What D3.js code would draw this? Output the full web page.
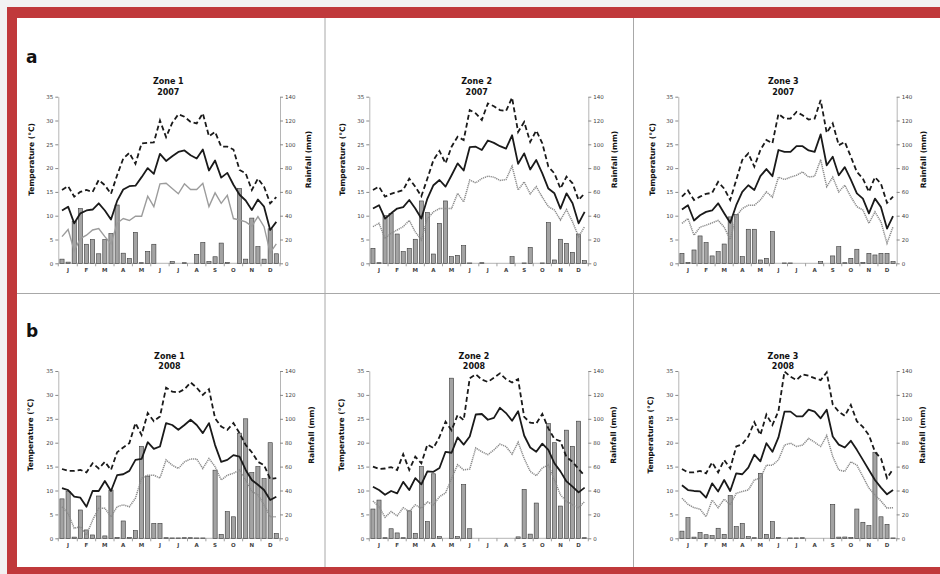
<!DOCTYPE html>
<html><head><meta charset="utf-8">
<script src="https://cdn.jsdelivr.net/npm/d3@7/dist/d3.min.js"></script>
<style>body{margin:0;background:#fff}svg{display:block}</style>
</head><body>
<svg id="c" width="940" height="574"></svg>
<script>
const months = ["J","F","M","A","M","J","J","A","S","O","N","D"];
const tempTicks = [0,5,10,15,20,25,30,35];
const rainTicks = [0,20,40,60,80,100,120,140];
const panelLetters = ["a","b"];

// Zone 1, 2007 (dekadal values)
const z1_2007_max  = [15.4,16.2,14.0,15.0,15.4,15.0,17.5,16.4,14.6,18.5,22.0,23.2,20.9,25.2,25.3,25.4,30.0,26.5,29.5,31.3,30.8,29.7,29.4,31.5,26.7,27.6,24.5,24.5,23.9,19.6,18.9,15.4,17.8,16.1,12.6,13.9];
const z1_2007_mean = [11.1,11.9,8.4,10.5,11.1,11.3,12.6,11.1,9.2,13.1,15.5,16.2,16.3,18.1,20.0,18.8,23.0,21.5,22.5,23.4,23.7,22.7,22.0,23.9,19.5,21.6,18.0,19.0,16.5,14.4,13.2,11.2,13.4,11.9,7.0,8.7];
const z1_2007_min  = [5.6,7.1,2.6,5.2,5.9,7.0,7.3,5.6,4.1,8.4,9.4,9.0,9.9,9.9,14.1,11.9,16.7,16.8,15.7,14.6,16.7,15.5,15.5,16.8,11.9,14.8,12.6,14.3,9.4,9.1,8.7,7.8,9.8,7.7,2.2,4.1];
const z1_2007_rain = [3.5,1,35,46,16,20,8,20,25,49,8.5,4,26,0.5,10,16,0,0,1.5,0,0.5,0,7.5,17.5,1.5,5.5,17,0.8,0,63,3.5,38,14,3.5,29,8];

// Zone 2, 2007
const z2_2007_max  = [15.4,16.1,14.0,14.6,15.0,15.4,17.8,16.1,14.1,17.8,21.7,23.6,21.0,24.5,26.6,25.9,32.2,31.5,30.1,33.6,33.0,32.2,32.0,34.8,27.6,29.7,25.5,27.9,25.2,20.3,18.9,15.7,18.2,16.8,13.3,14.7];
const z2_2007_mean = [11.5,12.2,9.4,10.5,11.5,11.8,13.3,11.5,9.4,13.6,16.4,17.5,16.1,18.5,21.0,19.5,24.4,24.5,23.8,25.8,25.3,24.6,24.1,26.9,20.9,23.1,19.7,21.7,18.9,15.7,14.7,11.5,14.7,12.6,8.4,10.8];
const z2_2007_min  = [7.7,8.4,5.2,6.3,7.0,7.7,9.0,6.6,4.9,9.4,10.8,11.5,11.5,11.5,14.7,12.9,17.5,16.9,17.8,18.3,18.1,17.4,17.6,20.4,15.4,17.1,14.6,16.1,13.9,11.9,11.2,9.1,11.3,8.7,5.6,7.7];
const z2_2007_rain = [12.6,0.5,40,42,24.6,9.8,12.6,20.2,52.4,42.6,7.8,33.6,52.4,5.6,6.7,14.8,0.3,0,0.5,0,0,0,0,5.6,0,0.3,13.4,0,0.3,34.2,2.8,20.2,16.8,9.2,24.6,2.2];

// Zone 3, 2007
const z3_2007_max  = [14.0,15.3,13.3,14.0,14.6,14.8,17.1,15.7,13.3,17.5,21.7,23.1,20.3,23.8,25.9,25.2,31.4,30.4,30.4,31.8,31.1,30.2,30.4,34.3,27.4,29.4,24.8,25.5,22.4,19.2,17.8,15.0,18.1,16.7,12.7,14.0];
const z3_2007_mean = [11.3,12.2,9.0,10.1,10.8,11.1,12.6,10.5,8.5,12.2,15.0,16.4,15.4,18.3,19.8,18.3,23.8,23.4,23.4,24.6,24.6,23.7,23.4,27.1,20.6,22.4,18.5,20.2,17.6,14.7,13.6,10.5,13.6,11.8,7.3,9.9];
const z3_2007_min  = [8.4,9.4,5.9,7.6,8.0,8.5,9.0,7.6,5.0,9.9,11.5,12.2,12.2,13.3,15.0,13.9,18.1,17.6,18.1,18.5,19.2,18.1,18.3,21.8,16.1,18.1,15.0,16.4,14.0,11.9,11.2,8.4,10.8,8.7,4.2,7.7];
const z3_2007_rain = [8.4,0.8,11.2,23,17.4,6.2,9.8,16.2,39,41,5.6,28.6,28.6,2.8,4.2,26.6,0,0.3,0.3,0,0,0,0,1.4,0,6.2,14,0.5,4.2,11.8,0.8,8.4,7,8.4,8.4,1.4];

// Zone 1, 2008
const z1_2008_max  = [14.5,14.1,14.1,14.3,13.8,15.7,14.6,16.0,14.3,18.0,19.0,19.9,24.1,21.6,26.2,24.5,25.5,31.5,30.7,30.5,31.2,32.6,31.5,30.0,31.2,25.1,23.4,22.7,24.1,22.0,19.5,18.0,16.0,15.3,12.4,12.6];
const z1_2008_mean = [10.5,10.1,8.7,8.5,6.6,9.9,9.9,12.0,9.9,13.2,13.4,14.1,16.4,16.6,20.1,18.7,19.2,24.1,23.7,22.7,23.7,24.8,23.7,22.0,24.1,19.5,16.0,16.4,17.4,17.1,14.3,12.2,11.2,10.1,8.0,8.7];
const z1_2008_min  = [6.6,5.2,2.1,2.4,0.7,3.8,6.3,6.3,4.5,6.6,7.0,6.6,8.4,12.6,13.2,13.2,12.6,16.4,15.3,14.6,16.0,16.6,16.6,14.6,16.7,15.0,12.2,13.2,13.6,14.3,12.2,9.8,9.1,7.0,4.5,4.5];
const z1_2008_rain = [33,39,1,23.7,7,2.8,35.4,2,40.4,0.8,14.5,0.8,6.4,77,52,12.5,12.5,0.5,0.3,0.3,0.5,0.5,0.3,0.3,0,57,3.3,22.3,18,88,100,55,60,50,80,4];

// Zone 2, 2008
const z2_2008_max  = [15.0,14.5,14.6,14.9,14.3,17.6,14.3,17.1,15.7,19.6,18.9,21.2,24.4,22.6,25.8,24.7,33.5,34.3,33.2,32.7,33.6,34.5,33.3,32.6,33.3,25.4,24.2,24.0,26.0,23.0,20.8,20.3,17.0,16.0,14.5,13.1];
const z2_2008_mean = [10.8,10.1,9.1,9.9,9.4,11.8,10.1,12.6,11.3,14.0,13.9,14.7,18.1,17.9,21.1,19.6,21.3,25.9,26.0,24.8,25.2,27.3,26.2,24.6,26.6,21.5,19.0,18.1,19.8,18.5,15.7,14.0,11.9,10.8,9.6,10.6];
const z2_2008_min  = [7.8,6.6,4.4,5.6,4.7,6.4,5.6,7.0,6.3,7.6,7.0,8.7,9.5,12.5,15.4,14.3,14.5,18.9,18.1,17.5,18.5,19.7,19.2,17.6,20.1,16.7,14.0,13.1,14.7,15.4,12.2,9.1,7.7,7.0,6.4,7.7];
const z2_2008_rain = [24.5,32,0.5,8,4.5,0.5,23,4.2,60,14,54,1.4,0,134,1.4,45,8,0,0,0,0,0,0,0,1.2,41,3.5,29.5,0,96,80,27,90.5,77,98,0.5];

// Zone 3, 2008
const z3_2008_max  = [14.5,13.8,13.8,14.1,13.6,15.9,13.8,16.4,14.6,19.2,19.7,21.3,24.3,21.6,25.9,23.7,26.6,34.9,33.8,33.1,34.3,34.0,33.5,33.1,34.7,28.0,26.5,25.6,27.9,24.5,23.3,21.6,18.1,16.7,12.6,14.5];
const z3_2008_mean = [11.1,10.1,9.9,9.8,8.5,11.5,9.8,12.2,9.9,13.6,13.4,14.8,17.5,16.1,19.9,18.1,21.1,26.5,26.5,25.5,25.5,26.9,26.5,25.1,26.9,21.3,19.6,19.0,20.4,18.5,16.4,14.3,12.2,10.6,9.2,10.1];
const z3_2008_min  = [8.4,7.1,6.4,6.1,4.5,8.0,6.4,8.2,7.0,9.4,9.8,10.1,12.2,12.6,15.3,15.3,16.4,19.5,19.9,19.2,19.5,20.9,20.1,19.2,21.5,17.1,14.3,14.0,16.0,15.3,12.9,10.5,9.1,7.8,6.3,6.4];
const z3_2008_rain = [6,17.3,1,5,3,2.2,8.4,3.3,35.7,9.8,12.5,1.4,0.5,54.4,3.3,14,0.8,0,0.3,0.3,0.5,0,0,0,0,28.4,1,1.1,0.8,24.5,13.4,10.6,72,18,11.7,0.3];

const panels = [
  {zone:"Zone 1", year:"2007", tLabel:"Temperature (°C)", max:z1_2007_max, mean:z1_2007_mean, min:z1_2007_min, rain:z1_2007_rain, minSolid:true},
  {zone:"Zone 2", year:"2007", tLabel:"Temperature (°C)", max:z2_2007_max, mean:z2_2007_mean, min:z2_2007_min, rain:z2_2007_rain},
  {zone:"Zone 3", year:"2007", tLabel:"Temperature (°C)", max:z3_2007_max, mean:z3_2007_mean, min:z3_2007_min, rain:z3_2007_rain},
  {zone:"Zone 1", year:"2008", tLabel:"Temperature (°C)", max:z1_2008_max, mean:z1_2008_mean, min:z1_2008_min, rain:z1_2008_rain},
  {zone:"Zone 2", year:"2008", tLabel:"Temperature (°C)", max:z2_2008_max, mean:z2_2008_mean, min:z2_2008_min, rain:z2_2008_rain},
  {zone:"Zone 3", year:"2008", tLabel:"Temperaturas (°C)", max:z3_2008_max, mean:z3_2008_mean, min:z3_2008_min, rain:z3_2008_rain}
];

// ---- layout ----
const colX = [[58.3,280],[369.3,588.3],[678.3,896.7]];
const rowY = [[96.7,263.3],[371,538.3]];
const titleX = [[168.3,476.7,783.3],[169.5,474,783]];
const tTitleX = [[31.5,342,652],[30,341.5,650.5]];
const rTitleX = [[308.5,614.5,923],[311.5,613.5,922.5]];
const FONT = "DejaVu Sans, Verdana, sans-serif";

const svg = d3.select("#c");
svg.append("rect").attr("width",940).attr("height",574).attr("fill","#f2f2f2");
svg.append("rect").attr("x",7).attr("y",7).attr("width",940).attr("height",574).attr("fill","#c0393b");
svg.append("rect").attr("x",17).attr("y",18).attr("width",930).attr("height",549).attr("fill","#ffffff");

// panel dividers
const div = svg.append("g").attr("stroke","#a8a8a8").attr("stroke-width",1);
div.append("line").attr("x1",325).attr("x2",325).attr("y1",18).attr("y2",567);
div.append("line").attr("x1",633.5).attr("x2",633.5).attr("y1",18).attr("y2",567);
div.append("line").attr("x1",17).attr("x2",940).attr("y1",293.5).attr("y2",293.5);

// panel letters
panelLetters.forEach((l,r)=>{
  svg.append("text").attr("x",26).attr("y",r===0?63:337)
    .attr("font-family",FONT).attr("font-weight","bold").attr("font-size",17)
    .attr("fill","#111").text(l);
});

panels.forEach((p,k)=>{
  const r = Math.floor(k/3), c = k%3;
  const [x0,x1] = colX[c];
  const [yt,yb] = rowY[r];
  const g = svg.append("g");
  const x = d3.scaleBand().domain(d3.range(36)).range([x0+1,x1-1]).paddingInner(0.32).paddingOuter(0.1);
  const cx = i => x(i) + x.bandwidth()/2;
  const yT = d3.scaleLinear().domain([0,35]).range([yb,yt]);
  const yR = d3.scaleLinear().domain([0,140]).range([yb,yt]);

  // axes
  const ax = d3.axisLeft(yT).tickValues(tempTicks).tickSize(3).tickSizeOuter(0).tickPadding(2);
  const gl = g.append("g").attr("transform",`translate(${x0},0)`).call(ax);
  const ar = d3.axisRight(yR).tickValues(rainTicks).tickSize(3).tickSizeOuter(0).tickPadding(2);
  const gr = g.append("g").attr("transform",`translate(${x1},0)`).call(ar);
  [gl,gr].forEach(a=>{
    a.select(".domain").attr("stroke","#b5b5b5");
    a.selectAll(".tick line").attr("stroke","#888");
    a.selectAll(".tick text").attr("font-family",FONT).attr("font-size",5.5).attr("fill","#444");
  });

  // bottom axis
  const gb = g.append("g");
  gb.append("line").attr("x1",x0).attr("x2",x1).attr("y1",yb).attr("y2",yb).attr("stroke","#b5b5b5");
  const bounds = d3.range(0,37,3);
  gb.selectAll("line.mt").data(bounds).join("line").attr("class","mt")
    .attr("x1",d=> d===36 ? x1 : (d===0 ? x0 : x(d) - x.step()*x.paddingInner()/2))
    .attr("x2",d=> d===36 ? x1 : (d===0 ? x0 : x(d) - x.step()*x.paddingInner()/2))
    .attr("y1",yb).attr("y2",yb+3).attr("stroke","#888").attr("stroke-width",0.8);
  gb.selectAll("text").data(months).join("text")
    .attr("x",(d,i)=>cx(3*i+1)).attr("y",yb+8.5).attr("text-anchor","middle")
    .attr("font-family",FONT).attr("font-size",5.5).attr("font-weight","bold").attr("fill","#444").text(d=>d);

  // bars
  g.append("g").selectAll("rect").data(p.rain).join("rect")
    .attr("x",(d,i)=>x(i)).attr("width",x.bandwidth())
    .attr("y",d=>yR(d)).attr("height",d=>yb-yR(d))
    .attr("fill","#a3a3a3").attr("stroke","#3a3a3a").attr("stroke-width",0.6);

  const line = d3.line().x((d,i)=>cx(i)).y(d=>yT(d));
  g.append("path").attr("d",line(p.min)).attr("fill","none")
    .attr("stroke", p.minSolid ? "#9c9c9c" : "#8a8a8a")
    .attr("stroke-width", p.minSolid ? 1.4 : 1.5)
    .attr("stroke-dasharray", p.minSolid ? null : "1.2,0.8");
  g.append("path").attr("d",line(p.mean)).attr("fill","none")
    .attr("stroke","#1a1a1a").attr("stroke-width",1.8).attr("stroke-linejoin","round");
  g.append("path").attr("d",line(p.max)).attr("fill","none")
    .attr("stroke","#1a1a1a").attr("stroke-width",1.8).attr("stroke-dasharray","5,3");

  // titles
  const tx = titleX[r][c];
  const ty = r===0 ? [84,95] : [358.5,368.5];
  [p.zone,p.year].forEach((t,j)=>{
    g.append("text").attr("x",tx).attr("y",ty[j]).attr("text-anchor","middle")
      .attr("font-family",FONT).attr("font-weight","bold").attr("font-size",8).attr("fill","#111").text(t);
  });
  const tcy = r===0 ? 159.5 : 435;
  g.append("text").attr("transform",`translate(${tTitleX[r][c]+2.5},${tcy}) rotate(-90)`)
    .attr("text-anchor","middle").attr("font-family",FONT).attr("font-weight","bold")
    .attr("font-size",7.5).attr("fill","#111").text(p.tLabel);
  g.append("text").attr("transform",`translate(${rTitleX[r][c]+2.5},${tcy}) rotate(-90)`)
    .attr("text-anchor","middle").attr("font-family",FONT).attr("font-weight","bold")
    .attr("font-size",7.5).attr("fill","#111").text("Rainfall (mm)");
});
</script>
</body></html>
